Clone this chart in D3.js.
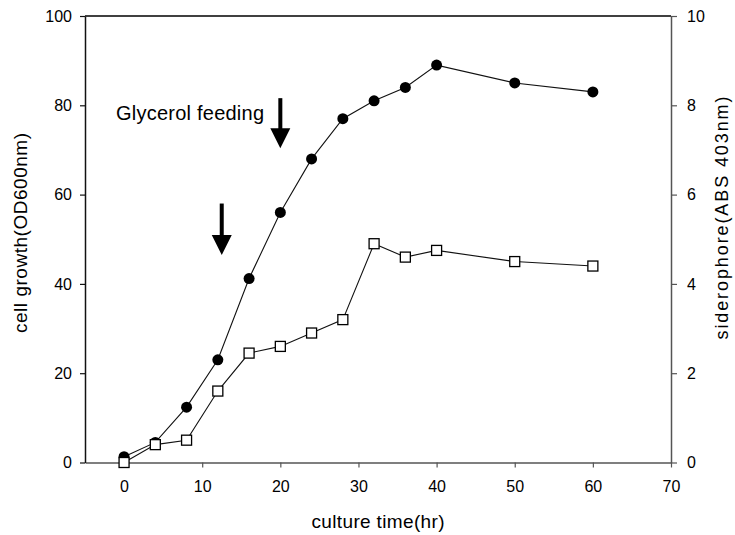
<!DOCTYPE html>
<html>
<head>
<meta charset="utf-8">
<script src="https://cdn.jsdelivr.net/npm/d3@7"></script>
<style>
  html, body { margin: 0; padding: 0; background: #fff; }
  svg { display: block; font-family: Arial, "Liberation Sans", sans-serif; }
</style>
</head>
<body>
<svg id="chart" width="735" height="535"></svg>
<script>
// Culture time (hr) of each sample
const hours = [0, 4, 8, 12, 16, 20, 24, 28, 32, 36, 40, 50, 60];
// Cell growth, OD600nm (left axis)
const cellGrowth = [1.3, 4.5, 12.4, 23, 41.2, 56, 68, 77, 81, 84, 89, 85, 83];
// Siderophore, ABS 403nm (right axis)
const siderophore = [0, 0.4, 0.5, 1.6, 2.45, 2.6, 2.9, 3.2, 4.9, 4.6, 4.75, 4.5, 4.4];

const xTicks = [0, 10, 20, 30, 40, 50, 60, 70];
const leftTicks = [0, 20, 40, 60, 80, 100];
const rightTicks = [0, 2, 4, 6, 8, 10];

// Glycerol feeding events: time, arrow top and tip on the cell growth scale
const feedTimes = [12.5, 20];
const feedTop = [58, 81.6];
const feedTip = [46.5, 70.4];

const svg = d3.select("#chart");
const L = 85, R = 671, T = 16, B = 462.5;

const x = d3.scaleLinear().domain([-5, 70]).range([L, R]);
const yL = d3.scaleLinear().domain([0, 100]).range([B, T]);
const yR = d3.scaleLinear().domain([0, 10]).range([B, T]);

// top frame line
svg.append("line").attr("x1", L).attr("x2", R).attr("y1", T).attr("y2", T)
  .attr("stroke", "#000").attr("stroke-width", 1.3);

function styleAxis(g, color) {
  g.selectAll("path").attr("stroke", color).attr("stroke-width", 1.5);
  g.selectAll("line").attr("stroke", color).attr("stroke-width", 1.2);
  g.selectAll("text").attr("fill", "#000").attr("font-size", 16)
    .attr("font-family", "Arial, 'Liberation Sans', sans-serif");
}

const gx = svg.append("g").attr("transform", `translate(0,${B})`)
  .call(d3.axisBottom(x).tickValues(xTicks).tickSizeInner(5).tickSizeOuter(0).tickPadding(13));
styleAxis(gx, "#555");

const gl = svg.append("g").attr("transform", `translate(${L},0)`)
  .call(d3.axisLeft(yL).tickValues(leftTicks).tickSizeInner(5).tickSizeOuter(0).tickPadding(8));
styleAxis(gl, "#111");

const gr = svg.append("g").attr("transform", `translate(${R},0)`)
  .call(d3.axisRight(yR).tickValues(rightTicks).tickSizeInner(6).tickSizeOuter(0).tickPadding(10));
styleAxis(gr, "#555");

// axis titles
svg.append("text").attr("x", 378).attr("y", 528).attr("text-anchor", "middle")
  .attr("font-size", 19).attr("textLength", 133).text("culture time(hr)");
svg.append("text").attr("transform", "translate(27,233) rotate(-90)").attr("text-anchor", "middle")
  .attr("font-size", 19).attr("textLength", 200).text("cell growth(OD600nm)");
svg.append("text").attr("transform", "translate(728,218) rotate(-90)").attr("text-anchor", "middle")
  .attr("font-size", 18).attr("textLength", 243).text("siderophore(ABS 403nm)");

const pts = hours.map((h, i) => ({ h, g: cellGrowth[i], s: siderophore[i] }));

// cell growth line + filled circles
svg.append("path").datum(pts)
  .attr("d", d3.line().x(d => x(d.h)).y(d => yL(d.g)))
  .attr("fill", "none").attr("stroke", "#111").attr("stroke-width", 1.1);
svg.append("g").selectAll("circle").data(pts).join("circle")
  .attr("cx", d => x(d.h)).attr("cy", d => yL(d.g)).attr("r", 5.5).attr("fill", "#000");

// siderophore line + open squares
svg.append("path").datum(pts)
  .attr("d", d3.line().x(d => x(d.h)).y(d => yR(d.s)))
  .attr("fill", "none").attr("stroke", "#111").attr("stroke-width", 1.1);
const sq = 10;
svg.append("g").selectAll("rect").data(pts).join("rect")
  .attr("x", d => x(d.h) - sq / 2).attr("y", d => yR(d.s) - sq / 2)
  .attr("width", sq).attr("height", sq)
  .attr("fill", "#fff").attr("stroke", "#000").attr("stroke-width", 1.3);

// feeding arrows
feedTimes.forEach((t, i) => {
  const cx = x(t), y0 = yL(feedTop[i]), y1 = yL(feedTip[i]);
  const head = 20, hw = 10;
  svg.append("rect").attr("x", cx - 2).attr("y", y0).attr("width", 4)
    .attr("height", (y1 - head) - y0 + 1).attr("fill", "#000");
  svg.append("path")
    .attr("d", `M${cx - hw},${y1 - head} L${cx + hw},${y1 - head} L${cx},${y1} Z`)
    .attr("fill", "#000");
});

svg.append("text").attr("x", 116).attr("y", 120).attr("font-size", 20)
  .attr("textLength", 148).text("Glycerol feeding");
</script>
</body>
</html>
